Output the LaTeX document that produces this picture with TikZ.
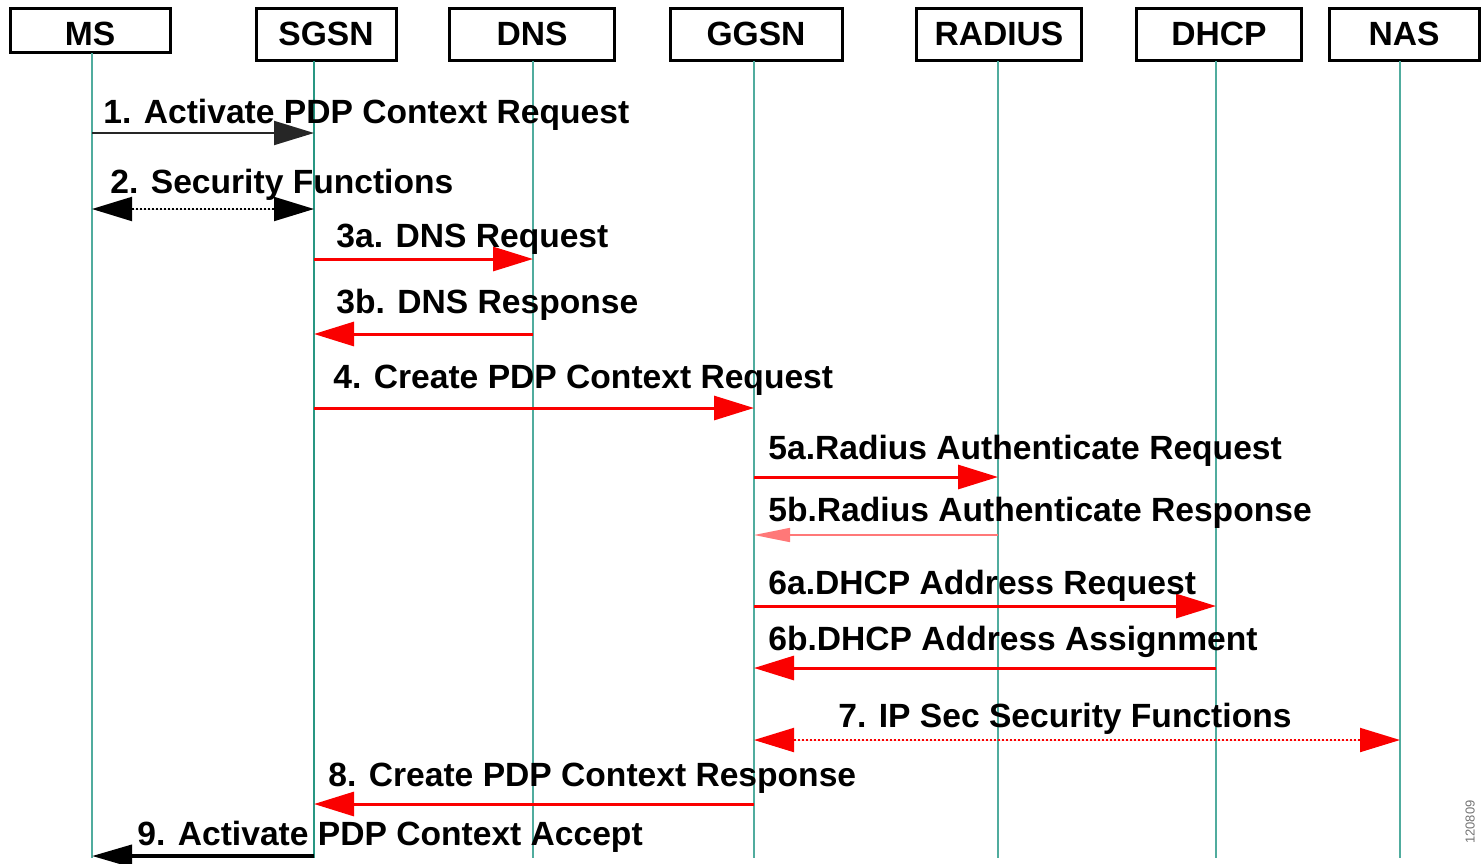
\documentclass[tikz,border=0pt]{standalone}
\usepackage{fontspec}
\setmainfont{Liberation Sans}
\usetikzlibrary{arrows.meta}
\definecolor{lifec}{RGB}{80,172,158}
\definecolor{lifedark}{RGB}{40,150,130}
\definecolor{sred}{RGB}{250,0,0}
\definecolor{pinkred}{RGB}{255,120,120}
\begin{document}
\begin{tikzpicture}[x=0.5pt,y=-0.5pt,
  lblfont/.style={font=\bfseries\fontsize{16.8}{20}\selectfont},
  box/.style={draw=black,line width=1.5pt,inner sep=0pt,lblfont,minimum height=26pt},
  lbl/.style={lblfont,inner sep=0pt,anchor=base west},
  life/.style={draw=lifec,line width=0.6pt},
  bigtip/.style={-{Triangle[length=20pt,width=12pt]}},
  bothtip/.style={{Triangle[length=20pt,width=12pt]}-{Triangle[length=20pt,width=12pt]}},
  bmsg/.style={bigtip,line width=1pt,draw=black!85},
  rmsg/.style={bigtip,line width=1.5pt,draw=sred,fill=sred},
  dotmsg/.style={bothtip,line width=1pt,dash pattern=on 1pt off 1pt},
  thinmsg/.style={-{Triangle[length=18pt,width=7pt]},line width=0.8pt,draw=pinkred}]
\useasboundingbox (0,0) rectangle (1481,863);

% boxes
\node[box,minimum width=80pt,minimum height=22pt,
      label={[lblfont,inner sep=0pt,yshift=-1.8pt]center:MS}] (ms) at (90,30) {};
\node[box,minimum width=70pt] (sgsn) at (326,34) {SGSN};
\node[box,minimum width=82.5pt] (dns) at (532,34) {DNS};
\node[box,minimum width=86pt] (ggsn) at (756,34) {GGSN};
\node[box,minimum width=82.5pt] (radius) at (999,34) {RADIUS};
\node[box,minimum width=82.5pt] (dhcp) at (1219,34) {DHCP};
\node[box,minimum width=75pt] (nas) at (1404,34) {NAS};

% lifelines
\coordinate (msL) at (92,53);
\coordinate (sgsnL) at (314,61);
\coordinate (dnsL) at (533,61);
\coordinate (ggsnL) at (754,61);
\coordinate (radiusL) at (998,61);
\coordinate (dhcpL) at (1216,61);
\coordinate (nasL) at (1400,61);
\coordinate (bottom) at (0,858);
\foreach \l in {msL,dnsL,ggsnL,radiusL,dhcpL,nasL}
  \draw[life] (\l) -- (\l |- bottom);
\draw[life,draw=lifedark] (sgsnL) -- (sgsnL |- bottom);

% messages
\draw[bmsg] (msL |- 0,133) -- (sgsnL |- 0,133);
\node[lbl] (l1) at (103,123) {1. Activate PDP Context Request};

\draw[dotmsg,draw=black,fill=black] (msL |- 0,209) -- (sgsnL |- 0,209);
\node[lbl] (l2) at (110,193) {2. Security Functions};

\draw[rmsg] (sgsnL |- 0,259) -- (dnsL |- 0,259);
\node[lbl] (l3a) at (336,247) {3a. DNS Request};

\draw[rmsg] (dnsL |- 0,334) -- (sgsnL |- 0,334);
\node[lbl] (l3b) at (336,313) {3b. DNS Response};

\draw[rmsg] (sgsnL |- 0,408) -- (ggsnL |- 0,408);
\node[lbl] (l4) at (333,388) {4. Create PDP Context Request};

\draw[rmsg] (ggsnL |- 0,477) -- (radiusL |- 0,477);
\node[lbl] (l5a) at (768,459) {5a.Radius Authenticate Request};

\draw[thinmsg,fill=sred] (radiusL |- 0,535) -- (ggsnL |- 0,535);
\node[lbl] (l5b) at (768,521) {5b.Radius Authenticate Response};

\draw[rmsg] (ggsnL |- 0,606) -- (dhcpL |- 0,606);
\node[lbl] (l6a) at (768,594) {6a.DHCP Address Request};

\draw[rmsg] (dhcpL |- 0,668) -- (ggsnL |- 0,668);
\node[lbl] (l6b) at (768,650) {6b.DHCP Address Assignment};

\draw[dotmsg,draw=sred,fill=sred] (ggsnL |- 0,740) -- (nasL |- 0,740);
\node[lbl] (l7) at (838,727) {7. IP Sec Security Functions};

\draw[rmsg] (ggsnL |- 0,804) -- (sgsnL |- 0,804);
\node[lbl] (l8) at (328,786) {8. Create PDP Context Response};

\draw[-{Triangle[length=20pt,width=11pt]},line width=2pt,draw=black] (sgsnL |- 0,856) -- (msL |- 0,856);
\node[lbl] (l9) at (137,845) {9. Activate PDP Context Accept};

% figure number
\node[rotate=90,font=\fontsize{6.5}{7}\selectfont,text=black!55,inner sep=0pt] (fig) at (1470,822) {120809};
\end{tikzpicture}
\end{document}
